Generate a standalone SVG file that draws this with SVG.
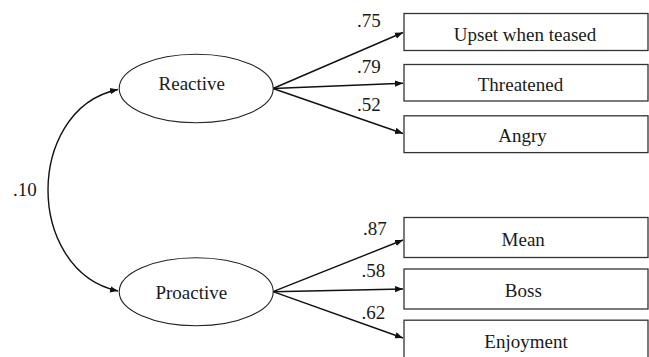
<svg xmlns="http://www.w3.org/2000/svg" width="649" height="357" viewBox="0 0 649 357">
<style>
text{font-family:"Liberation Serif","Times New Roman",serif;font-size:19px;fill:#1a1a1a}
.c{text-anchor:middle}
.box{fill:#fff;stroke:#333;stroke-width:1.3}
.ell{fill:#fff;stroke:#222;stroke-width:1.1}
.ln{fill:none;stroke:#111;stroke-width:1.4}
</style>
<defs>
<marker id="ah" viewBox="0 0 10 10" refX="10" refY="5" markerWidth="8" markerHeight="8" markerUnits="userSpaceOnUse" orient="auto">
<path d="M0,1 L10,5 L0,9 z" fill="#111"/>
</marker>
</defs>
<rect width="649" height="357" fill="#fff"/>
<g id="connectors">
<path class="ln" d="M48,190 C48,150 68,100 118,89.5" marker-end="url(#ah)"/>
<path class="ln" d="M48,190 C48,230 68,280 118,291" marker-end="url(#ah)"/>
<line class="ln" x1="273" y1="88.5" x2="403" y2="32.5" marker-end="url(#ah)"/>
<line class="ln" x1="273" y1="88.5" x2="403" y2="83.3" marker-end="url(#ah)"/>
<line class="ln" x1="273" y1="88.5" x2="403" y2="133.5" marker-end="url(#ah)"/>
<line class="ln" x1="273" y1="291.7" x2="403" y2="240" marker-end="url(#ah)"/>
<line class="ln" x1="273" y1="291.7" x2="403" y2="289" marker-end="url(#ah)"/>
<line class="ln" x1="273" y1="291.7" x2="403" y2="338" marker-end="url(#ah)"/>
<text x="13" y="196">.10</text>
<text x="357" y="27">.75</text>
<text x="357" y="72.7">.79</text>
<text x="357" y="111">.52</text>
<text x="363" y="235">.87</text>
<text x="361.5" y="277.3">.58</text>
<text x="361.5" y="319.3">.62</text>
</g>
<g id="reactive">
<ellipse class="ell" cx="196.2" cy="88.5" rx="77" ry="34.2"/>
<text class="c" x="191.8" y="90">Reactive</text>
</g>
<g id="proactive">
<ellipse class="ell" cx="196.2" cy="291.7" rx="77" ry="34"/>
<text class="c" x="191.3" y="299">Proactive</text>
</g>
<g id="upset">
<rect class="box" x="404" y="13.5" width="244" height="37"/>
<text class="c" x="525" y="40.7">Upset when teased</text>
</g>
<g id="threatened">
<rect class="box" x="404" y="64.5" width="244" height="36.5"/>
<text class="c" x="520.5" y="90.7">Threatened</text>
</g>
<g id="angry">
<rect class="box" x="404" y="115.8" width="244" height="36.8"/>
<text class="c" x="522.5" y="141.7">Angry</text>
</g>
<g id="mean">
<rect class="box" x="404" y="217.5" width="244" height="40"/>
<text class="c" x="523.2" y="246">Mean</text>
</g>
<g id="boss">
<rect class="box" x="404" y="269" width="244" height="40"/>
<text class="c" x="523.3" y="296.7">Boss</text>
</g>
<g id="enjoyment">
<rect class="box" x="404" y="320.2" width="244" height="40"/>
<text class="c" x="526" y="347.7">Enjoyment</text>
</g>
</svg>
